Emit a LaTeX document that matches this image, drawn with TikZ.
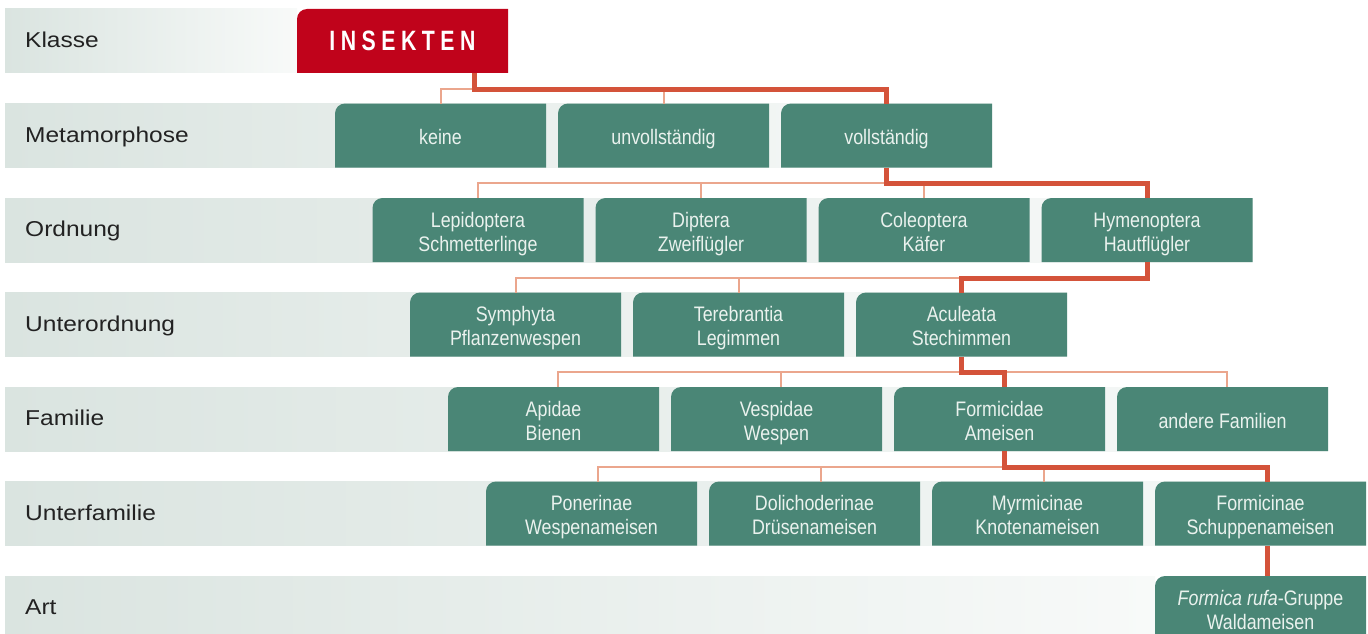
\documentclass[tikz,border=0pt]{standalone}
\usepackage{fontspec}
\usetikzlibrary{backgrounds}
\newfontfamily\boxfont[FakeStretch=0.85]{Liberation Sans}
\newfontfamily\labfont[FakeStretch=1.14]{Liberation Sans}
\newfontfamily\insfont[FakeStretch=0.76]{Liberation Sans}
\definecolor{boxgreen}{HTML}{4A8676}
\definecolor{insred}{HTML}{C0031B}
\definecolor{hlred}{HTML}{D4533A}
\definecolor{thinred}{HTML}{EBA68D}
\definecolor{bandL}{HTML}{DAE4E0}
\definecolor{bandR}{HTML}{F8FAF9}
\definecolor{boxtext}{HTML}{EAF2EE}
\definecolor{labtext}{HTML}{222222}
\newcommand\lsp{\kern5.5pt}
\newcommand\stA{\rule{0pt}{24pt}}
\newcommand\stB{\rule[-6pt]{0pt}{6pt}}
\tikzset{
  gbox/.style={anchor=north west, minimum width=211pt, minimum height=64pt,
    inner sep=0pt, outer sep=0pt, align=center, text=boxtext,
    font={\boxfont\fontsize{21}{24}\selectfont}},
  rbox/.style={anchor=north west, minimum width=211pt, minimum height=64pt,
    inner sep=0pt, outer sep=0pt, text=white,
    font={\insfont\bfseries\fontsize{28}{30}\selectfont}},
  rowlab/.style={anchor=base west, inner sep=0pt, text=labtext,
    font={\labfont\fontsize{21.5}{26}\selectfont}},
  band/.style={left color=bandL, right color=bandR},
  hl/.style={draw=hlred, line width=5pt},
  tn/.style={draw=thinred, line width=2pt},
}
\begin{document}
\begin{tikzpicture}[x=1pt, y=-1pt]
\useasboundingbox (0,0) rectangle (1368,634);
\clip (0,0) rectangle (1368,634);

% row labels
\node[rowlab] (lKlasse) at (25,47.5) {Klasse};
\node[rowlab] (lMeta) at (25,142) {Metamorphose};
\node[rowlab] (lOrd) at (25,236.5) {Ordnung};
\node[rowlab] (lUord) at (25,331) {Unterordnung};
\node[rowlab] (lFam) at (25,425.5) {Familie};
\node[rowlab] (lUfam) at (25,520) {Unterfamilie};
\node[rowlab] (lArt) at (25,614.5) {Art};

% Klasse
\node[rbox] (insekten) at (297,9) {I\lsp N\lsp S\lsp E\lsp K\lsp T\lsp E\lsp N};
% Metamorphose
\node[gbox] (keine) at (335,103.5) {\stA keine\stB};
\node[gbox] (unvoll) at (558,103.5) {\stA unvollständig\stB};
\node[gbox] (voll) at (781,103.5) {\stA vollständig\stB};
% Ordnung
\node[gbox] (lep) at (372.5,198) {\stA Lepidoptera\\Schmetterlinge\stB};
\node[gbox] (dip) at (595.5,198) {\stA Diptera\\Zweiflügler\stB};
\node[gbox] (col) at (818.5,198) {\stA Coleoptera\\Käfer\stB};
\node[gbox] (hym) at (1041.5,198) {\stA Hymenoptera\\Hautflügler\stB};
% Unterordnung
\node[gbox] (sym) at (410,292.5) {\stA Symphyta\\Pflanzenwespen\stB};
\node[gbox] (ter) at (633,292.5) {\stA Terebrantia\\Legimmen\stB};
\node[gbox] (acu) at (856,292.5) {\stA Aculeata\\Stechimmen\stB};
% Familie
\node[gbox] (api) at (448,387) {\stA Apidae\\Bienen\stB};
\node[gbox] (ves) at (671,387) {\stA Vespidae\\Wespen\stB};
\node[gbox] (form) at (894,387) {\stA Formicidae\\Ameisen\stB};
\node[gbox] (and) at (1117,387) {\stA andere Familien\stB};
% Unterfamilie
\node[gbox] (pon) at (486,481.5) {\stA Ponerinae\\Wespenameisen\stB};
\node[gbox] (dol) at (709,481.5) {\stA Dolichoderinae\\Drüsenameisen\stB};
\node[gbox] (myr) at (932,481.5) {\stA Myrmicinae\\Knotenameisen\stB};
\node[gbox] (fmi) at (1155,481.5) {\stA Formicinae\\Schuppenameisen\stB};
% Art
\node[gbox] (art) at (1155,576) {\stA\textit{Formica rufa}-Gruppe\\Waldameisen\stB};

\begin{scope}[on background layer]
  \clip (0,0) rectangle (1368,634);
  \shade[band] (5,9) rectangle (297,73);
  \shade[band] (5,103.5) rectangle (992,167.5);
  \shade[band] (5,198) rectangle (1252.5,262);
  \shade[band] (5,292.5) rectangle (1067,356.5);
  \shade[band] (5,387) rectangle (1328,451);
  \shade[band] (5,481.5) rectangle (1366,545.5);
  \shade[band] (5,576) rectangle (1155,634);
  \fill[insred] (insekten.south west) -- ([yshift=-10pt]insekten.north west)
    .. controls ([yshift=-4.5pt]insekten.north west) and ([xshift=4.5pt]insekten.north west) .. ([xshift=10pt]insekten.north west)
    -- (insekten.north east) -- (insekten.south east) -- cycle;
  \foreach \n in {keine,unvoll,voll,lep,dip,col,hym,sym,ter,acu,api,ves,form,and,pon,dol,myr,fmi,art}
    \fill[boxgreen] (\n.south west) -- ([yshift=-10pt]\n.north west)
      .. controls ([yshift=-4.5pt]\n.north west) and ([xshift=4.5pt]\n.north west) .. ([xshift=10pt]\n.north west)
      -- (\n.north east) -- (\n.south east) -- cycle;
\end{scope}

% junction coordinates
\path ([xshift=71.5pt]insekten.south) ++(0,16) coordinate (j1);
\path (voll.south) ++(0,15.5) coordinate (j2);
\path (hym.south) ++(0,16) coordinate (j3);
\path (acu.south) ++(0,15.5) coordinate (j4);
\path ([xshift=4.5pt]form.south) ++(0,16) coordinate (j5);

% thin connectors
\draw[tn] (keine.north) |- (j1);
\draw[tn] (unvoll.north) -- (unvoll.north |- j1);
\draw[tn] (lep.north) |- (j2);
\draw[tn] (dip.north) -- (dip.north |- j2);
\draw[tn] (col.north) -- (col.north |- j2);
\draw[tn] (sym.north) |- (acu.north |- j3);
\draw[tn] (ter.north) -- (ter.north |- j3);
\draw[tn] ([xshift=4.5pt]api.north) |- (j4) -| ([xshift=4.5pt]and.north);
\draw[tn] ([xshift=4.5pt]ves.north) -- ([xshift=4.5pt]ves.north |- j4);
\draw[tn] ([xshift=6.5pt]pon.north) |- (j5);
\draw[tn] ([xshift=6.5pt]dol.north) -- ([xshift=6.5pt]dol.north |- j5);
\draw[tn] ([xshift=6.5pt]myr.north) -- ([xshift=6.5pt]myr.north |- j5);

% highlighted path
\draw[hl] ([xshift=71.5pt]insekten.south) -- (j1) -| (voll.north);
\draw[hl] (voll.south) -- (j2) -| (hym.north);
\draw[hl] (hym.south) -- (j3) -| (acu.north);
\draw[hl] (acu.south) -- (j4) -| ([xshift=4.5pt]form.north);
\draw[hl] ([xshift=4.5pt]form.south) -- (j5) -| ([xshift=6.5pt]fmi.north);
\draw[hl] ([xshift=6.5pt]fmi.south) -- ([xshift=6.5pt]art.north);
\end{tikzpicture}
\end{document}
